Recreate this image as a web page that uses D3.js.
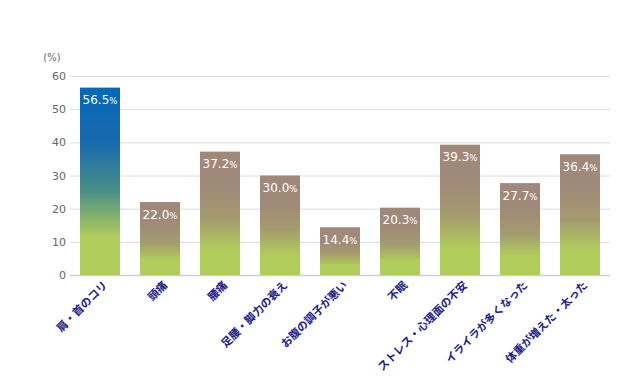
<!DOCTYPE html>
<html><head><meta charset="utf-8">
<script src="https://cdn.jsdelivr.net/npm/d3@7"></script>
<style>html,body{margin:0;padding:0;background:#fff;}svg{display:block;}</style>
</head><body>
<svg id="c" width="640" height="391"></svg>
<script>
const categories = ["肩・首のコリ","頭痛","腰痛","足腰・脚力の衰え","お腹の調子が悪い","不眠","ストレス・心理面の不安","イライラが多くなった","体重が増えた・太った"];
const values = [56.5,22.0,37.2,30.0,14.4,20.3,39.3,27.7,36.4];
const yTicks = [0,10,20,30,40,50,60];

const svg = d3.select("#c");
const x = d3.scaleBand().domain(categories).range([70,610]).paddingInner(0.3333).paddingOuter(0.1667);
const y = d3.scaleLinear().domain([0,60]).range([275,76]);
const font = "'Noto Sans CJK JP','Noto Sans',sans-serif";
const numFont = "'DejaVu Sans',Verdana,sans-serif";

const defs = svg.append("defs");
function grad(id, top){
  const g = defs.append("linearGradient").attr("id",id).attr("x1",0).attr("y1",0).attr("x2",0).attr("y2",1);
  const stops = top==="blue"
    ? [[0,"#0467b8"],[0.3,"#1a6aad"],[0.55,"#4a8f86"],[0.8,"#b1cd5b"],[1,"#b1cd5b"]]
    : [[0,"#a0887a"],[0.3,"#a08a78"],[0.55,"#a49b6e"],[0.8,"#b1cd5b"],[1,"#b1cd5b"]];
  stops.forEach(s=>g.append("stop").attr("offset",s[0]).attr("stop-color",s[1]));
}
grad("gBlue","blue"); grad("gBrown","brown");

// grid
svg.append("g").selectAll("line").data(yTicks).join("line")
  .attr("x1",70).attr("x2",610).attr("y1",d=>y(d)+0.5).attr("y2",d=>y(d)+0.5)
  .attr("stroke",d=>d===0?"#cfcfcf":"#dcdcdc").attr("stroke-width",d=>d===0?1.5:1);

// y axis labels
const yAxis = d3.axisLeft(y).tickValues(yTicks).tickSize(0).tickPadding(0);
const ya = svg.append("g").attr("transform","translate(66,0)").call(yAxis);
ya.select(".domain").remove();
ya.selectAll("text").attr("font-family",numFont).attr("font-size",11).attr("fill","#666");
svg.append("text").attr("x",52).attr("y",61).attr("text-anchor","middle")
  .attr("font-family",numFont).attr("font-size",10).attr("fill","#666").text("(%)");

// bars
svg.append("g").selectAll("rect").data(values).join("rect")
  .attr("x",(d,i)=>x(categories[i])).attr("width",x.bandwidth())
  .attr("y",d=>y(d)).attr("height",d=>y(0)-y(d))
  .attr("fill",(d,i)=>i===0?"url(#gBlue)":"url(#gBrown)");

// value labels
const lab = svg.append("g").selectAll("text").data(values).join("text")
  .attr("x",(d,i)=>x(categories[i])+x.bandwidth()/2).attr("y",d=>y(d)+16.5)
  .attr("text-anchor","middle").attr("fill","#fff").attr("font-family",numFont);
lab.append("tspan").attr("font-size",12).text(d=>d.toFixed(1));
lab.append("tspan").attr("font-size",8.5).text("%");

// category labels
svg.append("g").selectAll("text").data(categories).join("text")
  .attr("transform",d=>`translate(${x(d)+x.bandwidth()/2+8},${286}) rotate(-45)`)
  .attr("text-anchor","end").attr("font-family",font).attr("font-size",11)
  .attr("font-weight","bold").attr("fill","#1d2088").text(d=>d);
</script>
</body></html>
